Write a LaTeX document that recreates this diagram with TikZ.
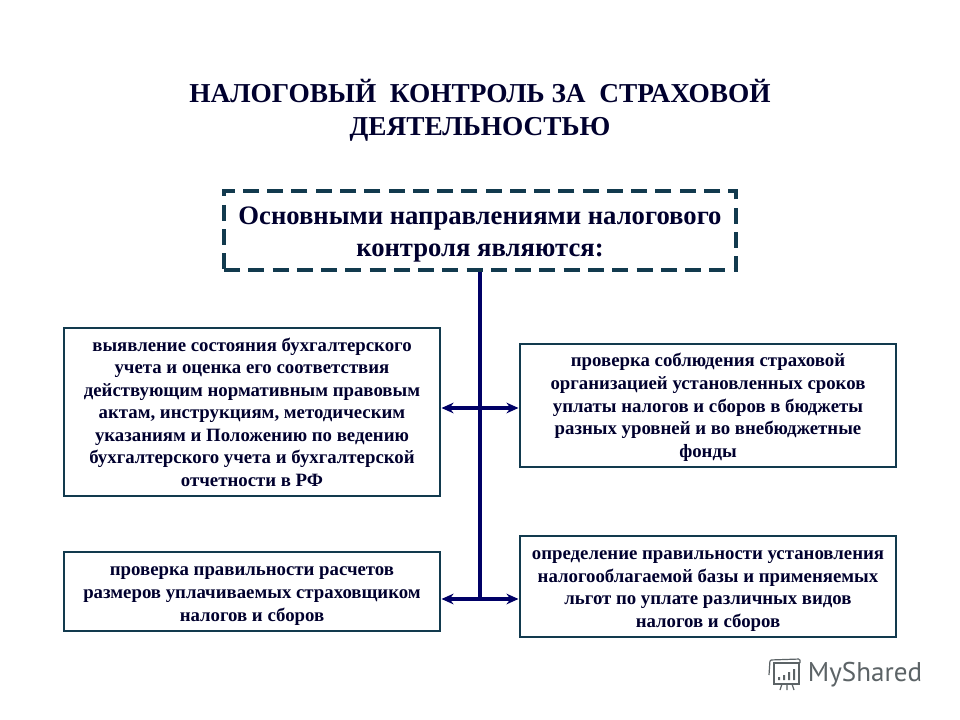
\documentclass[tikz,border=0pt]{standalone}
\usepackage{fontspec}
\setmainfont{Liberation Serif}
\newfontfamily\logofont{PT Sans}
\usetikzlibrary{arrows.meta}
\definecolor{boxline}{HTML}{123A4E}
\definecolor{busline}{HTML}{000066}
\definecolor{inktext}{HTML}{00002E}
\definecolor{logogray}{HTML}{5C6366}
\newcommand{\droptext}[1]{\rule{0pt}{#1}}
\begin{document}
\begin{tikzpicture} [
        x=0.75pt, y=-0.75pt,
        heading/.style={align=center, text=inktext, font=\fontsize{20.5}{24.8}\selectfont\bfseries},
        mainbox/.style={draw=boxline, line width=2.6pt, dash pattern=on 12pt off 6.2pt, minimum width=384pt, minimum height=59pt, inner sep=0pt, align=center, text=inktext, font=\fontsize{20}{24}\selectfont\bfseries},
        square/.style={draw=boxline, line width=1.3pt, minimum width=282pt, inner sep=0pt, align=center, text=inktext, font=\fontsize{14.1}{16.9}\selectfont\bfseries},
        bus/.style={draw=busline, line width=2.6pt},
        link/.style={draw=busline, line width=2.3pt, {Stealth[length=9pt,width=8pt]}-{Stealth[length=9pt,width=8pt]}, shorten <=0.5pt, shorten >=0.5pt},
        logoline/.style={draw=logogray, line width=0.9pt} ]
    \useasboundingbox (0,0) rectangle (960,720);
    \fill[white] (0,0) rectangle (960,720);
    \node[heading] (title) at (480,110) {НАЛОГОВЫЙ\ \ КОНТРОЛЬ ЗА\ \ СТРАХОВОЙ\\ДЕЯТЕЛЬНОСТЬЮ};
    \node[mainbox] (q0) at (480,230.5) {\droptext{19.5pt}Основными направлениями налогового\\контроля являются:};
    \node[square, minimum height=126pt] (q1) at (252,412) {выявление состояния бухгалтерского\\учета и оценка его соответствия\\действующим нормативным правовым\\актам, инструкциям, методическим\\указаниям и Положению по ведению\\бухгалтерского учета и бухгалтерской\\отчетности в РФ};
    \node[square, minimum height=92pt] (q2) at (708,405.5) {\droptext{12.8pt}проверка соблюдения страховой\\организацией установленных сроков\\уплаты налогов и сборов в бюджеты\\разных уровней и во внебюджетные\\фонды};
    \node[square, minimum height=59pt] (q3) at (252,591.5) {\droptext{13.5pt}проверка правильности расчетов\\размеров уплачиваемых страховщиком\\налогов и сборов};
    \node[square, minimum height=76pt] (q4) at (708,586.5) {\droptext{13.5pt}определение правильности установления\\налогооблагаемой базы и применяемых\\льгот по уплате различных видов\\налогов и сборов};
    \coordinate (j1) at (480,408);
    \coordinate (j2) at (480,599);
    \draw[bus] (q0.south) -- (j2);
    \draw[link] (j1 -| q1.east) -- (j1 -| q2.west);
    \draw[link] (j2 -| q3.east) -- (j2 -| q4.west);
    \node[text=logogray, inner sep=0pt, font=\logofont\fontsize{20.3}{22}\selectfont] (mark) at (865,675) {MyShared};
    \draw[logoline] (774,663) rectangle (799,684);
    \draw[logoline, rounded corners=1pt] (769,675) -- (770,660) -- (800,659) -- (800,663);
    \draw[logoline] (782,684) -- (780,690) (787,684) -- (787,690) (792,684) -- (794,690);
    \fill[logogray] (778,677) rectangle (780,680) (783,675) rectangle (785,680) (788,672) rectangle (790,680) (793,669) rectangle (795,680);
\end{tikzpicture}
\end{document}
